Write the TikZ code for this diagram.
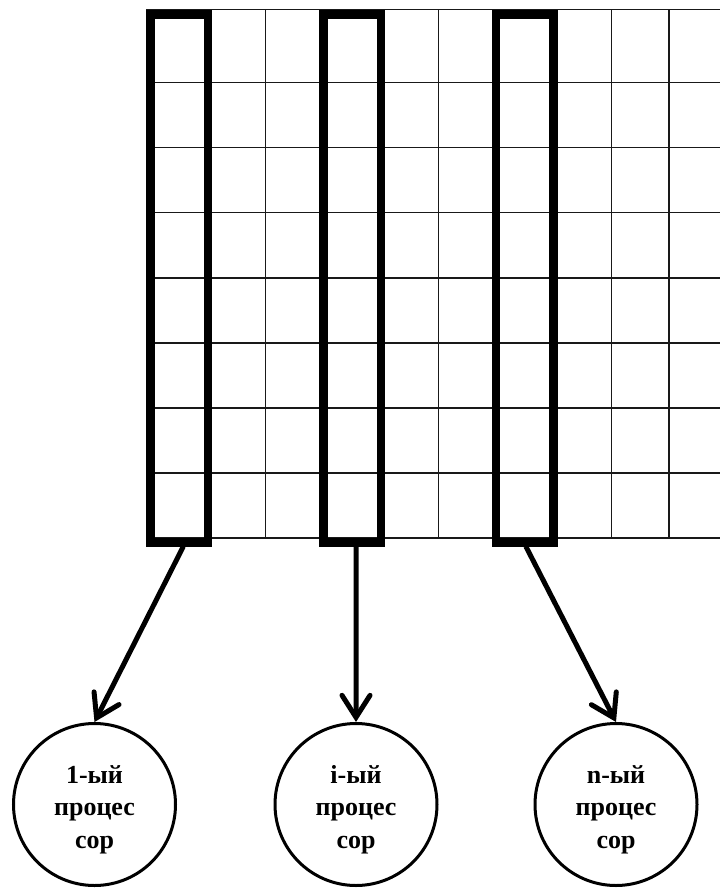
\documentclass[tikz,border=0pt]{standalone}
\usepackage{fontspec}
\setmainfont{Liberation Serif}
\usetikzlibrary{arrows.meta}
\begin{document}
\begin{tikzpicture}[x=1pt,y=-1pt,
  gridline/.style={line width=1.4pt, black!90},
  column/.style={draw, rectangle, line width=8.5pt, minimum width=57.6pt,
    minimum height=528pt, inner sep=0pt},
  proc/.style={draw, circle, line width=3pt, minimum size=162pt, inner sep=0pt},
  proctext/.style={font=\bfseries\fontsize{26}{32.5}\selectfont, align=center, inner sep=0pt},
  feed/.style={line width=5pt, -{Straight Barb[length=22pt,width=28pt,line cap=round]}}]
  \useasboundingbox (0,0) rectangle (720,889);

  % thin grid (runs off the right edge)
  \begin{scope}
    \clip (0,0) rectangle (720,889);
    \foreach \i in {1,...,10}
      \draw[gridline] ({150.5+57.6*\i},9.3) -- ++(0,529);
    \draw[gridline] (146,9.3) -- (720,9.3);
    \foreach \k in {0,...,7}
      \draw[gridline] (146,{82.7+65.04*\k}) -- (720,{82.7+65.04*\k});
  \end{scope}

  % highlighted columns
  \node[column] (c1) at (179.3,278.25) {};
  \node[column] (c2) at (352.1,278.25) {};
  \node[column] (c3) at (524.9,278.25) {};

  % processors
  \node[proc] (p1) at (94.5,804.5) {};
  \node[proc] (p2) at (356,804.5) {};
  \node[proc] (p3) at (616,804.5) {};

  \node[proctext] (t1) at (94.5,809.5) {1-ый\\процес\\сор};
  \node[proctext] (t2) at (356,809.5) {i-ый\\процес\\сор};
  \node[proctext] (t3) at (616,809.5) {n-ый\\процес\\сор};

  % column-to-processor assignment
  \draw[feed] ([xshift=4pt]c1.south) -- (p1.north);
  \draw[feed] ([xshift=4pt]c2.south) -- (p2.north);
  \draw[feed] ([xshift=1pt]c3.south) -- (p3.north);
\end{tikzpicture}
\end{document}
